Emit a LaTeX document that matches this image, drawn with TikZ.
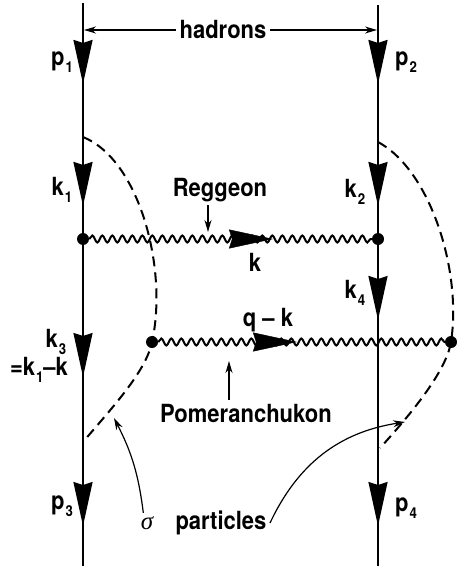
\documentclass[tikz,border=0pt]{standalone}
\usepackage{fontspec}
\setmainfont{TeX Gyre Heros}[FakeStretch=0.88]
\newfontfamily\greekfont{Liberation Serif}
\usetikzlibrary{arrows.meta, decorations.pathmorphing, decorations.markings}

\newcommand{\idx}[1]{\kern1pt\raisebox{-0.5ex}{\fontsize{15}{15}\selectfont #1}}

\begin{document}
\begin{tikzpicture}[x=1pt, y=-1pt, font=\fontsize{25}{29}\selectfont\bfseries]
        \tikzstyle{particle} = [draw, line width=2pt]
        \tikzstyle{vertex} = [circle, fill=black, inner sep=0pt, minimum size=12pt]
        \tikzstyle{wavy} = [draw, line width=2pt, decorate, decoration={snake, segment length=10pt, amplitude=3.5pt}]
        \tikzstyle{cut} = [draw, line width=2pt, dash pattern=on 10pt off 6pt]
        \tikzstyle{pointer} = [draw, line width=1.2pt, -{Stealth[length=12pt, width=7pt]}]
        \tikzstyle{headat} = [postaction={decorate, decoration={markings, mark=at position #1 with {\arrow{Stealth[length=44pt, width=19pt, inset=3pt]}}}}]
        \useasboundingbox (0,0) rectangle (457,569);

        % hadron lines and vertices
        \coordinate (lt) at (83,3);
        \coordinate (lb) at (83,566);
        \coordinate (rt) at (378,5);
        \coordinate (rb) at (378,566);
        \node [vertex] (v1) at (83,239) {};
        \node [vertex] (v2) at (378,239) {};
        \node [vertex] (v3) at (152,342) {};
        \node [vertex] (v4) at (451,342) {};

        \draw [particle, headat=81pt, headat=203pt] (lt) -- (v1.center);
        \draw [particle, headat=138pt, headat=287pt] (v1.center) -- (lb);
        \draw [particle, headat=79pt, headat=201pt] (rt) -- (v2.center);
        \draw [particle, headat=81pt, headat=287pt] (v2.center) -- (rb);

        % Reggeon and Pomeranchukon
        \draw [wavy] (v1) -- (v2);
        \path [headat=190pt] (v1.center) -- (v2.center);
        \draw [wavy] (v3) -- (v4);
        \path [headat=145pt] (v3.center) -- (v4.center);

        % cuts
        \coordinate (c1) at (83,137);
        \coordinate (c2) at (83,442);
        \coordinate (c3) at (378,142);
        \coordinate (c4) at (380,448);
        \draw [cut] (c1) .. controls (140,160) and (168,270) .. (v3.center)
            .. controls (146,372) and (110,410) .. (c2);
        \draw [cut] (c3) .. controls (430,170) and (462,270) .. (v4.center)
            .. controls (446,372) and (410,415) .. (c4);

        % labels
        \node (hadrons) at (223,30) {hadrons};
        \coordinate (ha) at (84,30);
        \coordinate (hb) at (377,30);
        \draw [pointer] (hadrons) -- (ha);
        \draw [pointer] (hadrons) -- (hb);

        \node (p1) at (62,62) {p\idx{1}};
        \node (p2) at (406,62) {p\idx{2}};
        \node (k1) at (62,190) {k\idx{1}};
        \node (k2) at (355,192) {k\idx{2}};
        \node (k4) at (355,293) {k\idx{4}};
        \node (k3) at (56,342) {k\idx{3}};
        \node (k3eq) at (39,370) {=k\idx{1}–k};
        \node (p3) at (62,506) {p\idx{3}};
        \node (p4) at (406,508) {p\idx{4}};

        \node (k) at (255,262) {k};
        \node (qk) at (268,320) {q – k};

        \node (reggeon) at (220,190) {Reggeon};
        \coordinate (rtip) at (208,232);
        \draw [pointer] (reggeon.south -| rtip) -- (rtip);

        \node (pomeron) at (246,413) {Pomeranchukon};
        \coordinate (ptip) at (229,361);
        \draw [pointer] (pomeron.north -| ptip) -- (ptip);

        \node (sigma) at (147,523) {\greekfont\mdseries\itshape σ};
        \coordinate (stip) at (114,418);
        \draw [pointer] (sigma.110) to [bend right=10] (stip);

        \node (particles) at (221,523) {particles};
        \coordinate (xtip) at (405,422);
        \draw [pointer] (particles.east) to [bend left=28] (xtip);
\end{tikzpicture}
\end{document}
